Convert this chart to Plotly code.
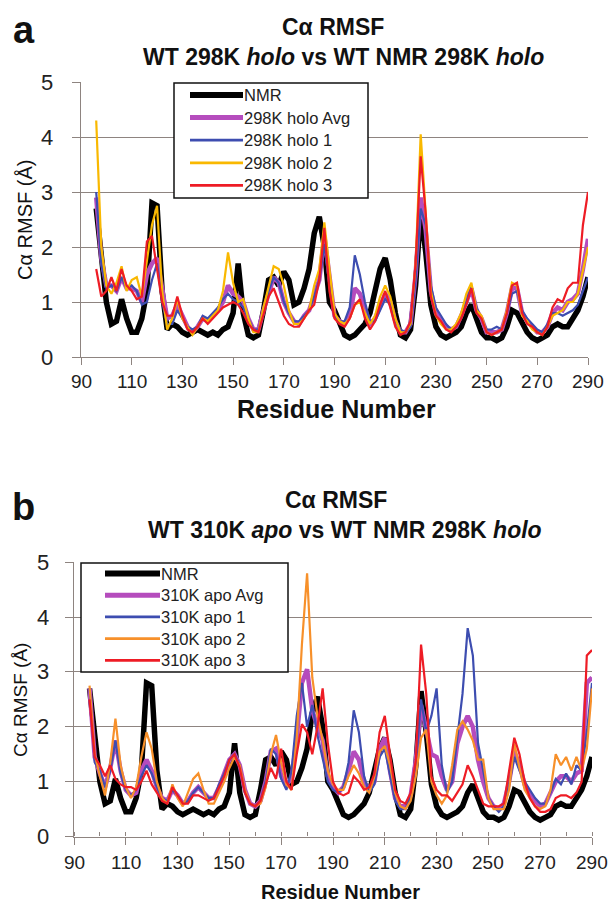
import plotly.graph_objects as go

W, H = 614, 908

# residue numbers (every second residue)
residue = [96, 98, 100, 102, 104, 106, 108, 110, 112, 114,
           116, 118, 120, 122, 124, 126, 128, 130, 132, 134,
           136, 138, 140, 142, 144, 146, 148, 150, 152, 154,
           156, 158, 160, 162, 164, 166, 168, 170, 172, 174,
           176, 178, 180, 182, 184, 186, 188, 190, 192, 194,
           196, 198, 200, 202, 204, 206, 208, 210, 212, 214,
           216, 218, 220, 222, 224, 226, 228, 230, 232, 234,
           236, 238, 240, 242, 244, 246, 248, 250, 252, 254,
           256, 258, 260, 262, 264, 266, 268, 270, 272, 274,
           276, 278, 280, 282, 284, 286, 288, 290]

nmr = [2.7, 1.9, 1.0, 0.6, 0.65, 1.05, 0.7, 0.45, 0.45, 0.7,
       1.2, 2.8, 2.75, 1.2, 0.5, 0.6, 0.55, 0.45, 0.4, 0.45,
       0.5, 0.45, 0.4, 0.45, 0.4, 0.5, 0.55, 0.8, 1.7, 0.8,
       0.4, 0.35, 0.4, 0.85, 1.4, 1.45, 1.3, 1.55, 1.4, 0.95,
       1.0, 1.25, 1.6, 2.25, 2.55, 2.0, 1.0, 0.85, 0.6, 0.4,
       0.35, 0.4, 0.5, 0.6, 0.8, 1.2, 1.6, 1.8, 1.4, 0.8,
       0.4, 0.35, 0.5, 1.3, 2.65, 1.9, 0.95, 0.55, 0.4, 0.35,
       0.4, 0.45, 0.55, 0.8, 0.95, 0.7, 0.45, 0.35, 0.35, 0.3,
       0.35, 0.55, 0.85, 0.8, 0.6, 0.45, 0.35, 0.3, 0.35, 0.4,
       0.55, 0.6, 0.55, 0.55, 0.7, 0.85, 1.1, 1.45]

holo_avg = [2.9, 1.8, 1.3, 1.3, 1.2, 1.45, 1.25, 1.25, 1.2, 1.0,
            1.5, 1.7, 1.8, 1.3, 0.7, 0.75, 0.95, 0.75, 0.55, 0.45,
            0.55, 0.7, 0.65, 0.75, 0.85, 1.0, 1.3, 1.15, 1.1, 1.0,
            0.7, 0.5, 0.5, 0.85, 1.15, 1.45, 1.35, 1.0, 0.8, 0.65,
            0.6, 0.75, 0.85, 1.1, 1.4, 2.2, 1.4, 0.75, 0.65, 0.6,
            0.75, 1.25, 1.15, 0.85, 0.6, 0.7, 0.95, 1.15, 1.0, 0.65,
            0.45, 0.45, 0.6, 1.5, 2.9, 2.3, 1.2, 0.8, 0.65, 0.55,
            0.5, 0.55, 0.75, 1.0, 1.25, 0.85, 0.7, 0.45, 0.45, 0.45,
            0.5, 0.8, 1.25, 1.25, 0.8, 0.65, 0.55, 0.45, 0.45, 0.55,
            0.8, 0.9, 0.85, 1.0, 1.05, 1.15, 1.6, 2.15]

holo_1 = [3.0, 1.7, 1.25, 1.3, 1.2, 1.45, 1.25, 1.3, 1.2, 0.95,
          1.0, 1.4, 1.7, 1.0, 0.6, 0.6, 0.85, 0.7, 0.55, 0.5,
          0.55, 0.75, 0.7, 0.8, 0.9, 1.05, 1.15, 1.05, 1.0, 0.9,
          0.7, 0.5, 0.5, 0.8, 1.2, 1.45, 1.35, 1.0, 0.8, 0.65,
          0.65, 0.75, 0.85, 1.1, 1.4, 2.05, 1.3, 0.75, 0.65, 0.65,
          0.9, 1.85, 1.5, 1.0, 0.65, 0.65, 0.85, 1.05, 0.95, 0.65,
          0.5, 0.45, 0.55, 1.4, 2.7, 2.4, 1.3, 0.9, 0.75, 0.6,
          0.5, 0.55, 0.75, 1.0, 1.3, 0.9, 0.7, 0.5, 0.5, 0.55,
          0.5, 0.8, 1.15, 1.2, 0.85, 0.7, 0.6, 0.5, 0.45, 0.6,
          0.8, 0.8, 0.75, 0.8, 0.85, 0.95, 1.2, 1.45]

holo_2 = [4.3, 2.0, 1.3, 1.15, 1.35, 1.65, 1.2, 1.4, 1.45, 1.1,
          1.75, 2.4, 2.75, 1.2, 0.5, 0.7, 1.05, 0.7, 0.55, 0.4,
          0.55, 0.7, 0.65, 0.75, 0.85, 1.2, 1.9, 1.35, 1.0, 1.05,
          0.7, 0.45, 0.45, 0.9, 1.3, 1.65, 1.6, 1.3, 0.85, 0.6,
          0.6, 0.7, 0.85, 1.3, 1.6, 2.45, 1.6, 0.8, 0.65, 0.6,
          0.7, 0.95, 1.0, 0.8, 0.6, 0.75, 1.1, 1.3, 1.1, 0.7,
          0.45, 0.45, 0.6, 1.7, 4.05, 2.6, 1.2, 0.75, 0.6, 0.5,
          0.5, 0.6, 0.8, 1.15, 1.35, 0.85, 0.75, 0.45, 0.4, 0.45,
          0.5, 0.85, 1.35, 1.3, 0.75, 0.65, 0.5, 0.45, 0.4, 0.55,
          0.75, 0.8, 0.85, 1.0, 1.0, 1.15, 1.6, 2.0]

holo_3 = [1.6, 1.1, 1.2, 1.45, 1.2, 1.6, 1.3, 1.2, 1.05, 1.1,
          2.1, 2.2, 1.6, 1.0, 0.75, 0.75, 1.1, 0.75, 0.5, 0.45,
          0.55, 0.7, 0.6, 0.7, 0.8, 0.9, 0.95, 1.0, 0.95, 0.8,
          0.6, 0.5, 0.45, 0.8, 1.1, 1.25, 1.0, 0.75, 0.6, 0.55,
          0.55, 0.7, 0.85, 0.95, 1.4, 2.35, 1.2, 0.7, 0.6, 0.55,
          0.7, 0.95, 1.05, 0.7, 0.5, 0.65, 0.95, 1.2, 0.9, 0.55,
          0.4, 0.45, 0.65, 1.7, 3.65, 2.6, 1.1, 0.75, 0.65, 0.5,
          0.45, 0.55, 0.7, 0.95, 1.25, 0.8, 0.7, 0.45, 0.4, 0.45,
          0.5, 0.8, 1.3, 1.35, 0.8, 0.6, 0.55, 0.45, 0.4, 0.55,
          0.9, 1.05, 1.0, 1.25, 1.35, 1.35, 2.4, 3.0]

apo_avg = [2.7, 1.45, 1.15, 0.9, 1.25, 1.75, 1.2, 0.85, 0.75, 0.8,
           1.2, 1.4, 1.2, 0.9, 0.7, 0.65, 0.85, 0.75, 0.6, 0.65,
           0.8, 0.9, 0.8, 0.7, 0.7, 0.9, 1.15, 1.4, 1.5, 1.3,
           0.85, 0.6, 0.55, 0.65, 1.0, 1.55, 1.6, 1.1, 0.95, 1.05,
           1.8, 2.8, 3.05, 2.3, 2.0, 1.75, 1.1, 0.9, 0.8, 0.9,
           1.2, 1.55, 1.4, 1.0, 0.85, 1.0, 1.6, 1.8, 1.2, 0.7,
           0.55, 0.55, 0.75, 1.4, 2.4, 1.9, 1.5, 1.45, 1.1, 0.85,
           1.0, 1.7, 2.0, 2.2, 2.0, 1.4, 1.0, 0.7, 0.55, 0.5,
           0.6, 1.0, 1.55, 1.3, 0.95, 0.75, 0.65, 0.55, 0.6, 0.8,
           1.0, 1.1, 1.1, 1.0, 1.15, 1.2, 2.8, 2.9]

apo_1 = [2.7, 1.35, 1.2, 0.9, 1.2, 1.75, 1.15, 0.85, 0.75, 0.85,
         1.1, 1.3, 1.15, 0.9, 0.7, 0.65, 0.85, 0.75, 0.6, 0.65,
         0.8, 0.9, 0.8, 0.7, 0.7, 0.95, 1.15, 1.4, 1.5, 1.3,
         0.8, 0.6, 0.55, 0.65, 1.0, 1.6, 1.5, 1.05, 0.85, 1.2,
         2.2, 2.8, 2.0, 2.4, 1.85, 1.45, 1.0, 0.85, 0.8, 0.9,
         1.35, 2.3, 1.9, 1.1, 0.8, 0.95, 1.45, 1.6, 1.15, 0.65,
         0.5, 0.5, 0.75, 1.3, 2.5, 1.9, 2.2, 2.7, 1.3, 0.8,
         1.0, 1.8, 2.6, 3.8, 3.3, 1.7, 1.2, 0.7, 0.55, 0.45,
         0.55, 0.95, 1.45, 1.2, 1.0, 0.85, 0.7, 0.6, 0.6, 0.8,
         1.05, 0.95, 1.15, 0.95, 1.3, 1.2, 1.9, 2.8]

apo_2 = [2.75, 1.5, 1.1, 0.75, 1.35, 2.15, 1.3, 0.9, 0.7, 0.9,
         1.45, 1.9, 1.6, 1.0, 0.7, 0.6, 0.95, 0.7, 0.55, 0.8,
         1.05, 1.15, 0.85, 0.6, 0.6, 0.8, 1.0, 1.25, 1.45, 1.3,
         0.85, 0.6, 0.55, 0.6, 0.9, 1.5, 1.85, 1.35, 0.95, 0.85,
         1.8, 3.5, 4.8, 2.9, 2.2, 1.75, 1.2, 0.95, 0.85, 0.85,
         1.1, 1.3, 1.15, 0.9, 0.8, 1.1, 1.55, 1.65, 1.3, 0.8,
         0.55, 0.5, 0.65, 1.1, 1.8, 1.95, 1.0, 0.75, 0.6, 0.75,
         1.3, 1.95, 2.1, 1.95, 1.75, 1.4, 1.4, 0.7, 0.5, 0.5,
         0.5, 0.85, 1.7, 1.25, 0.85, 0.7, 0.55, 0.5, 0.55, 0.85,
         1.5, 1.3, 1.45, 1.2, 1.45, 1.2, 1.6, 2.7]

apo_3 = [2.5, 1.45, 1.3, 1.1, 1.3, 1.05, 0.95, 0.9, 0.9, 0.85,
         1.0, 1.2, 0.95, 0.8, 0.65, 0.6, 0.9, 0.75, 0.6, 0.6,
         0.75, 0.75, 0.7, 0.65, 0.7, 0.9, 1.1, 1.4, 1.5, 1.25,
         0.8, 0.6, 0.55, 0.65, 0.95, 1.25, 1.05, 1.6, 1.0, 0.85,
         1.5, 2.05, 1.9, 1.5, 2.0, 2.7, 1.7, 1.0, 0.8, 0.75,
         0.8, 1.1, 1.0, 0.85, 0.9, 1.15, 1.9, 2.2, 1.5, 0.85,
         0.65, 0.6, 0.8, 1.4, 3.5, 2.6, 1.1, 0.85, 0.75, 0.75,
         0.65, 0.8, 0.95, 1.3, 1.1, 0.85, 0.6, 0.55, 0.55, 0.55,
         0.6, 1.2, 1.8, 1.5, 1.0, 0.7, 0.55, 0.45, 0.45, 0.5,
         0.7, 0.75, 0.75, 0.7, 0.8, 1.0, 3.3, 3.4]

x_ticks = [90, 110, 130, 150, 170, 190, 210, 230, 250, 270, 290]
y_ticks = [0, 1, 2, 3, 4, 5]

names_a = ["NMR", "298K holo Avg", "298K holo 1", "298K holo 2", "298K holo 3"]
names_b = ["NMR", "310K apo Avg", "310K apo 1", "310K apo 2", "310K apo 3"]

FONT = "Liberation Sans, Arial, sans-serif"
GRID = "#8e8480"


def fx(x):
    return x / W


def fy(y):
    return 1 - y / H


styles_a = [("black", 5.5), ("#b54cbd", 4.5), ("#3d4db0", 2.2), ("#f9b800", 2.2), ("#ee1c25", 2.2)]
styles_b = [("black", 5.5), ("#b54cbd", 4.5), ("#3d4db0", 2.2), ("#f7902a", 2.2), ("#ee1c25", 2.2)]

fig = go.Figure()

for name, vals, (color, width) in zip(names_a, [nmr, holo_avg, holo_1, holo_2, holo_3], styles_a):
    fig.add_trace(go.Scatter(x=residue, y=vals, mode="lines", name=name,
                             line=dict(color=color, width=width),
                             xaxis="x", yaxis="y", showlegend=False))

for name, vals, (color, width) in zip(names_b, [nmr, apo_avg, apo_1, apo_2, apo_3], styles_b):
    fig.add_trace(go.Scatter(x=residue, y=vals, mode="lines", name=name,
                             line=dict(color=color, width=width),
                             xaxis="x2", yaxis="y2", showlegend=False))

# tick labels are placed as annotations below, so the axes only draw lines and ticks
xcommon = dict(range=[90, 290], tickmode="array", tickvals=x_ticks, ticks="outside",
               ticklen=7, tickcolor=GRID, showline=True, linecolor=GRID, linewidth=1.2,
               showgrid=False, zeroline=False, showticklabels=False, automargin=False)
ycommon = dict(range=[0, 5], tickmode="array", tickvals=y_ticks, ticks="outside",
               ticklen=8, tickcolor=GRID, showline=True, linecolor=GRID, linewidth=1.2,
               showgrid=True, gridcolor=GRID, gridwidth=1.2, zeroline=False,
               showticklabels=False, automargin=False)

fig.update_layout(
    xaxis=dict(domain=[fx(81), fx(588)], anchor="y", **xcommon),
    yaxis=dict(domain=[fy(357), fy(82)], anchor="x", **ycommon),
    xaxis2=dict(domain=[fx(74), fx(592)], anchor="y2",
                minor=dict(dtick=10, tick0=90, ticks="inside", ticklen=4, tickcolor=GRID),
                **xcommon),
    yaxis2=dict(domain=[fy(836.5), fy(562.3)], anchor="x2", **ycommon),
    width=W, height=H, autosize=False,
    margin=dict(l=0, r=0, t=0, b=0),
    plot_bgcolor="white", paper_bgcolor="white",
    font=dict(family=FONT, color="#111"),
    showlegend=False,
)

shapes = []
annotations = []


def tick_labels(xref, yref, x_label_y, y_label_x):
    for v in x_ticks:
        annotations.append(dict(text=str(v), x=v, xref=xref, y=fy(x_label_y), yref="paper",
                                xanchor="center", yanchor="middle", showarrow=False,
                                font=dict(size=19, family=FONT, color="#222")))
    for v in y_ticks:
        annotations.append(dict(text=str(v), x=fx(y_label_x), xref="paper", y=v, yref=yref,
                                xanchor="center", yanchor="middle", showarrow=False,
                                font=dict(size=22, family=FONT, color="#222")))


tick_labels("x", "y", 381, 47)
tick_labels("x2", "y2", 862, 43)


def legend_box(x0, y0, x1, y1, row0, step, lx0, lx1, tx, names, styles):
    shapes.append(dict(type="rect", xref="paper", yref="paper",
                       x0=fx(x0), x1=fx(x1), y0=fy(y1), y1=fy(y0),
                       line=dict(color="#111", width=1.5), fillcolor="white", layer="above"))
    for i, (name, (color, width)) in enumerate(zip(names, styles)):
        yy = row0 + step * i
        shapes.append(dict(type="line", xref="paper", yref="paper",
                           x0=fx(lx0), x1=fx(lx1), y0=fy(yy), y1=fy(yy),
                           line=dict(color=color, width=width + 0.5), layer="above"))
        annotations.append(dict(text=name, x=fx(tx), y=fy(yy), xref="paper", yref="paper",
                                xanchor="left", yanchor="middle", showarrow=False,
                                font=dict(size=16.5, family=FONT, color="#222")))


legend_box(174, 83, 368, 198, 95, 22.6, 190, 243, 242, names_a, styles_a)
legend_box(81, 563, 288, 672, 573.5, 21.7, 105, 160, 159, names_b, styles_b)


def text(t, x, y, size, angle=0, anchor="center"):
    annotations.append(dict(text=t, x=fx(x), y=fy(y), xref="paper", yref="paper",
                            xanchor=anchor, yanchor="middle", showarrow=False, textangle=angle,
                            font=dict(size=size, family=FONT, color="#111")))


# panel a
text("<b>a</b>", 24, 30, 38)
text("<b>Cα RMSF</b>", 333, 27, 23)
text("<b>WT 298K <i>holo</i> vs WT NMR 298K <i>holo</i></b>", 343, 57, 23)
text("Cα RMSF (Å)", 25, 220, 20, angle=-90)
text("<b>Residue Number</b>", 336, 409, 25)

# panel b
text("<b>b</b>", 24, 507, 38)
text("<b>Cα RMSF</b>", 336, 500, 23)
text("<b>WT 310K <i>apo</i> vs WT NMR 298K <i>holo</i></b>", 345, 530, 23)
text("Cα RMSF (Å)", 20, 700, 19, angle=-90)
text("<b>Residue Number</b>", 340, 892, 20)

fig.update_layout(shapes=shapes, annotations=annotations)

# the default page body margin would shift the 614x908 figure by 8px
fig.write_html("out.html", config={"displayModeBar": False},
               post_script="document.body.style.margin='0';")
